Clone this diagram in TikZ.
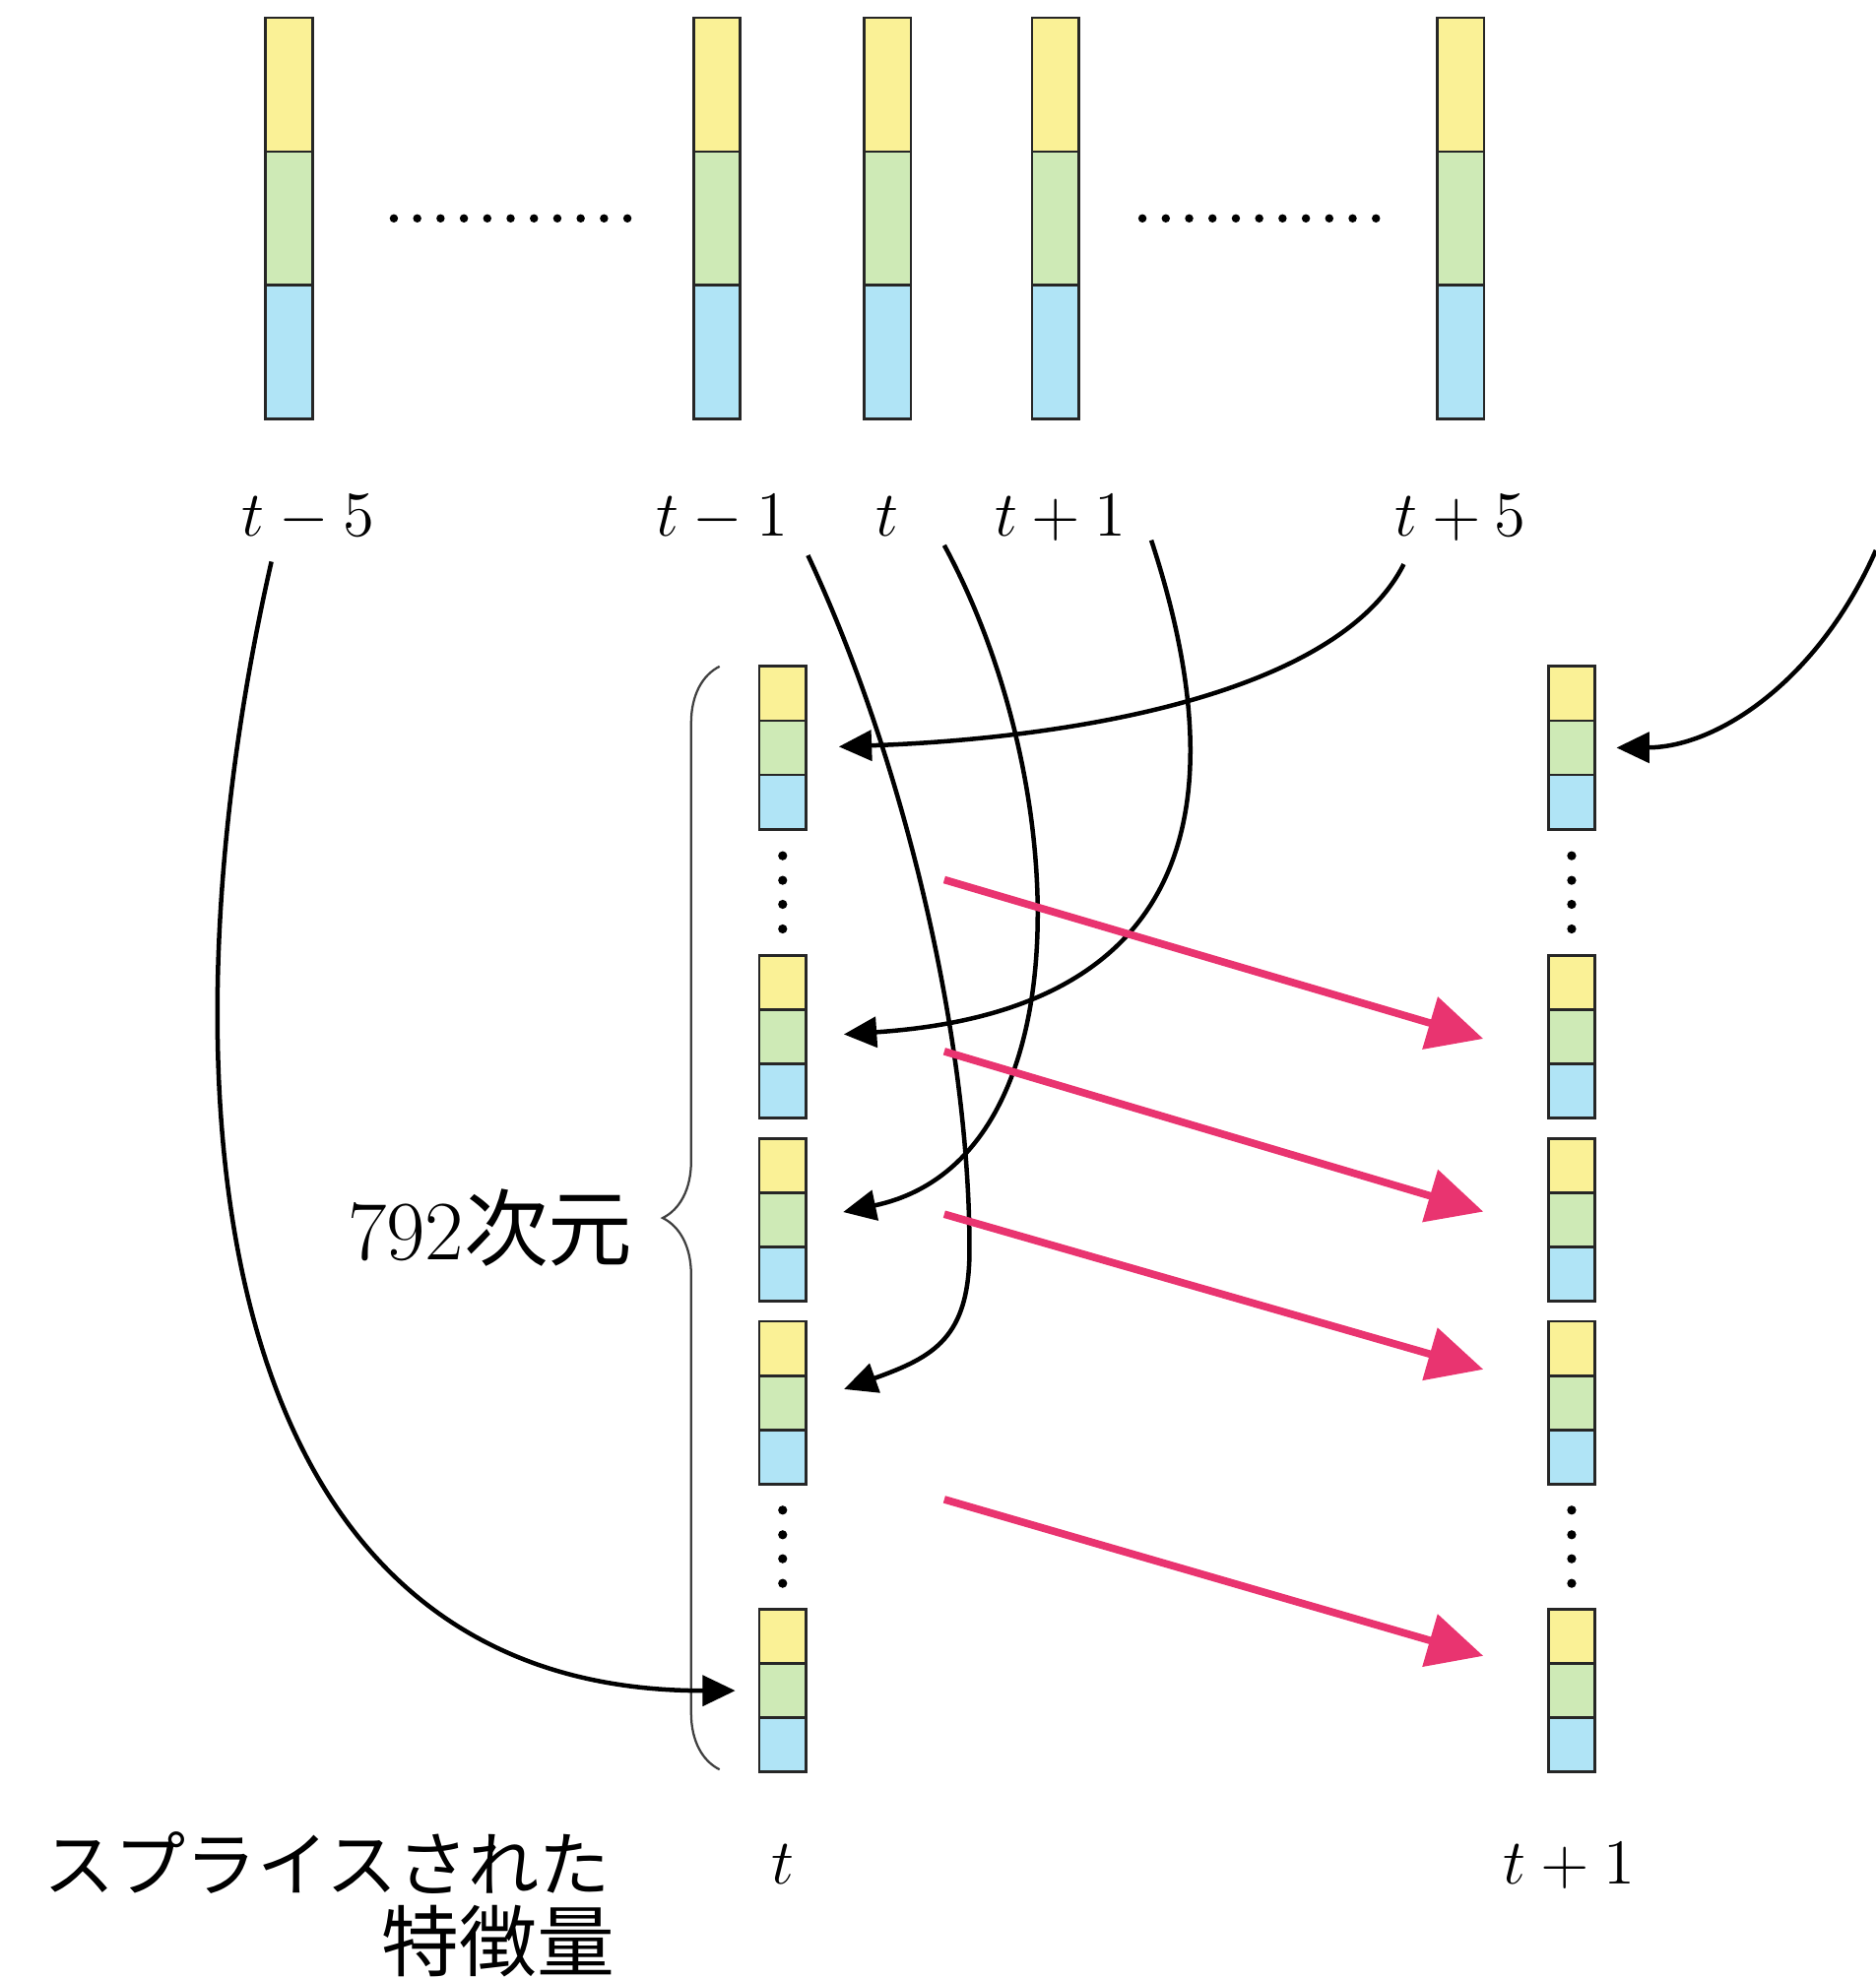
\documentclass[tikz,border=0pt]{standalone}
\usepackage{fontspec}
\newfontfamily\jpfont{Noto Sans CJK JP}
\usetikzlibrary{positioning,calc,arrows.meta,decorations.pathreplacing}

\definecolor{featY}{RGB}{250,241,150}
\definecolor{featG}{RGB}{206,234,182}
\definecolor{featB}{RGB}{176,228,246}
\definecolor{splice}{RGB}{233,52,112}

\tikzset{
  bigcell/.style={draw=black!85, line width=0.6pt, minimum width=0.37cm,
    minimum height=1.06cm, inner sep=0pt, outer sep=0pt},
  cell/.style={bigcell, minimum height=0.43cm},
  lab/.style={font=\fontsize{14.4}{17}\selectfont, inner sep=0pt},
  jplab/.style={font=\jpfont\fontsize{16}{19}\selectfont, inner sep=0pt},
  feed/.style={line width=1pt, -{Triangle[length=0.26cm,width=0.24cm]}},
  nextarrow/.style={draw=splice, line width=1.7pt, -{Triangle[length=0.44cm,width=0.42cm]}},
}

\begin{document}
\begin{tikzpicture}[x=0.01cm, y=-0.01cm]
  \useasboundingbox (0,0) rectangle (1486,1568);

  % frames
  \foreach \n/\x in {m5/229, m1/568, t0/703, p1/836, p5/1157} {
    \node[bigcell, fill=featY] (\n-y) at (\x,67) {};
    \node[bigcell, fill=featG, below=0pt of \n-y] (\n-g) {};
    \node[bigcell, fill=featB, below=0pt of \n-g] (\n-b) {};
  }
  \foreach \i in {0,...,10} {
    \fill (312+18.5*\i,173) circle (0.033cm);
    \fill (905+18.5*\i,173) circle (0.033cm);
  }
  \node[lab, anchor=base] (lm5) at (244,425) {$t-5$};
  \node[lab, anchor=base] (lm1) at (572,425) {$t-1$};
  \node[lab, anchor=base] (lt0) at (703,425) {$t$};
  \node[lab, anchor=base] (lp1) at (840,425) {$t+1$};
  \node[lab, anchor=base] (lp5) at (1157,425) {$t+5$};

  % spliced vectors
  \foreach \g/\yg in {1/592.5, 2/821.5, 3/966.5, 4/1111.5, 5/1339.5} {
    \foreach \c/\x in {L/620, R/1245} {
      \node[cell, fill=featG] (\c\g g) at (\x,\yg) {};
      \node[cell, fill=featY, above=0pt of \c\g g] (\c\g y) {};
      \node[cell, fill=featB, below=0pt of \c\g g] (\c\g b) {};
    }
  }
  \foreach \c in {L,R} {
    \foreach \d in {-29,-9.5,9.5,29} {
      \fill ($(\c1b.south)!0.5!(\c2y.north)+(0,\d)$) circle (0.036cm);
      \fill ($(\c4b.south)!0.5!(\c5y.north)+(0,\d)$) circle (0.036cm);
    }
  }
  \node[lab, anchor=base] (tl) at (620,1493) {$t$};
  \node[lab, anchor=base] (tr) at (1243,1493) {$t+1$};

  \draw[black!75, line width=0.5pt, decorate, decoration={brace, amplitude=0.45cm}]
    (570,1402) -- (570,528);
  \node[font=\fontsize{19}{22}\selectfont, inner sep=0pt, anchor=base east] (dim) at (502,998) {792{\jpfont 次元}};
  \node[jplab, anchor=east] (splab) at (484,1476) {スプライスされた};
  \node[jplab, font=\jpfont\fontsize{17.5}{20}\selectfont, anchor=east] (featlab) at (488,1538) {特徴量};

  % splicing
  \draw[feed, shorten >=0.19cm] ($(lm5.base)+(-29,20)$) .. controls (125,840) and (150,1340) .. (L5g.west);
  \draw[feed, shorten >=0.32cm] ($(lm1.base)+(68,15)$) .. controls (715,600) and (768,820) .. (768,990)
    .. controls (768,1060) and (740,1075) .. (L4g.east);
  \draw[feed, shorten >=0.30cm] ($(lt0.base)+(45,7)$) .. controls (850,620) and (860,920) .. (L3g.east);
  \draw[feed, shorten >=0.30cm] ($(lp1.base)+(72,3)$) .. controls (975,620) and (960,800) .. (L2g.east);
  \draw[feed, shorten >=0.26cm] ($(lp5.base)+(-45,22)$) .. controls (1060,550) and (850,585) .. (L1g.east);
  \coordinate (offr) at (1486,436);
  \draw[feed, shorten >=0.17cm] (offr) .. controls (1440,540) and (1360,592) .. (R1g.east);

  % next frame
  \coordinate (s1) at (748,697);  \coordinate (e1) at (1175,823);
  \coordinate (s2) at (748,833);  \coordinate (e2) at (1175,960);
  \coordinate (s3) at (748,962);  \coordinate (e3) at (1175,1085);
  \coordinate (s4) at (748,1188); \coordinate (e4) at (1175,1312);
  \foreach \k in {1,...,4}
    \draw[nextarrow] (s\k) -- (e\k);
\end{tikzpicture}
\end{document}
